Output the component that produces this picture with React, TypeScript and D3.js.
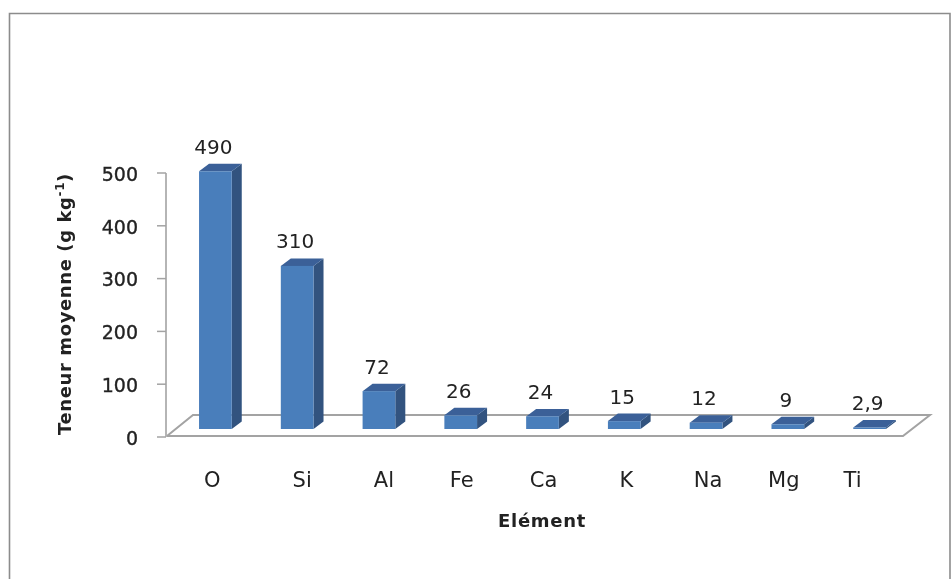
import React from "react";
import * as d3 from "d3";

const categories = ["O", "Si", "Al", "Fe", "Ca", "K", "Na", "Mg", "Ti"];
const values = [490, 310, 72, 26, 24, 15, 12, 9, 2.9];
const valueLabels = ["490", "310", "72", "26", "24", "15", "12", "9", "2,9"];
const yTicks = [0, 100, 200, 300, 400, 500];
// layout only: horizontal nudge of each category label from its bar, as drawn in the source
const labelNudge = [-3, 5, 5, 1, 1, 2, 2, -4, -17];

const W = 952, H = 579;
const font = "'DejaVu Sans', Verdana, sans-serif";
const axisColor = "#a3a3a3";
const textColor = "#222";

export default function App() {
  const axisY = d3.scaleLinear().domain([0, 500]).range([437, 173]);
  const barH = d3.scaleLinear().domain([0, 500]).range([0, 263]);
  const x = d3.scaleBand<string>().domain(categories).range([174.5, 910.5]).paddingInner(0.6).paddingOuter(0.3);
  const baseY = 429;
  const dx = 10, dy = 7.5;
  const line = d3.line();
  return (
    <svg width={W} height={H} style={{ position: "absolute", left: 0, top: 0, background: "#fff" }}>
      <defs>
        <filter id="soft" x="-2%" y="-2%" width="104%" height="104%">
          <feGaussianBlur stdDeviation="0.7" />
        </filter>
      </defs>
      <g filter="url(#soft)">
        <path d="M9.5,579V13.5H950V579" fill="none" stroke="#8c8c8c" strokeWidth={1.6} />
        {/* floor */}
        <path d={line([[167, 436], [903, 436], [930, 415], [193, 415], [167, 436]]) ?? ""} fill="#fff" stroke={axisColor} strokeWidth={2} />
        {/* y axis */}
        <line x1={166} x2={166} y1={axisY(500)} y2={axisY(0)} stroke={axisColor} strokeWidth={1.6} />
        {yTicks.map((t) => (
          <g key={t}>
            <line x1={157} x2={166} y1={axisY(t)} y2={axisY(t)} stroke={axisColor} strokeWidth={1.5} />
            <text x={138} y={axisY(t) + 1} dy="0.36em" textAnchor="end" fontFamily={font} fontSize={19} fill={textColor} stroke={textColor} strokeWidth={0.35}>{t}</text>
          </g>
        ))}
        {/* bars */}
        {categories.map((c, i) => {
          const h = barH(values[i]);
          const x0 = x(c)!;
          const x1 = x0 + x.bandwidth();
          const top = baseY - h;
          const cx = x0 + x.bandwidth() / 2;
          return (
            <g key={c}>
              <path d={line([[x1, baseY], [x1 + dx, baseY - dy], [x1 + dx, top - dy], [x1, top]]) + "Z"} fill="#30527f" />
              <path d={line([[x0, top], [x0 + dx, top - dy], [x1 + dx, top - dy], [x1, top]]) + "Z"} fill="#3a6198" />
              <rect x={x0} y={top} width={x.bandwidth()} height={h} fill="#4a7ebb" />
              <text x={cx - 2} y={top - 17.5} textAnchor="middle" fontFamily={font} fontSize={20} fill={textColor}>{valueLabels[i]}</text>
              <text x={cx + labelNudge[i]} y={487} textAnchor="middle" fontFamily={font} fontSize={21} fill={textColor}>{c}</text>
            </g>
          );
        })}
        <text x={542} y={527} textAnchor="middle" fontFamily={font} fontWeight="bold" fontSize={18} letterSpacing={0.7} fill={textColor}>Elément</text>
        <text transform="translate(71,304) rotate(-90)" textAnchor="middle" fontFamily={font} fontWeight="bold" fontSize={18} letterSpacing={0.6} fill={textColor}>
          Teneur moyenne (g kg<tspan dy={-7} fontSize={12}>-1</tspan><tspan dy={7}>)</tspan>
        </text>
      </g>
    </svg>
  );
}
